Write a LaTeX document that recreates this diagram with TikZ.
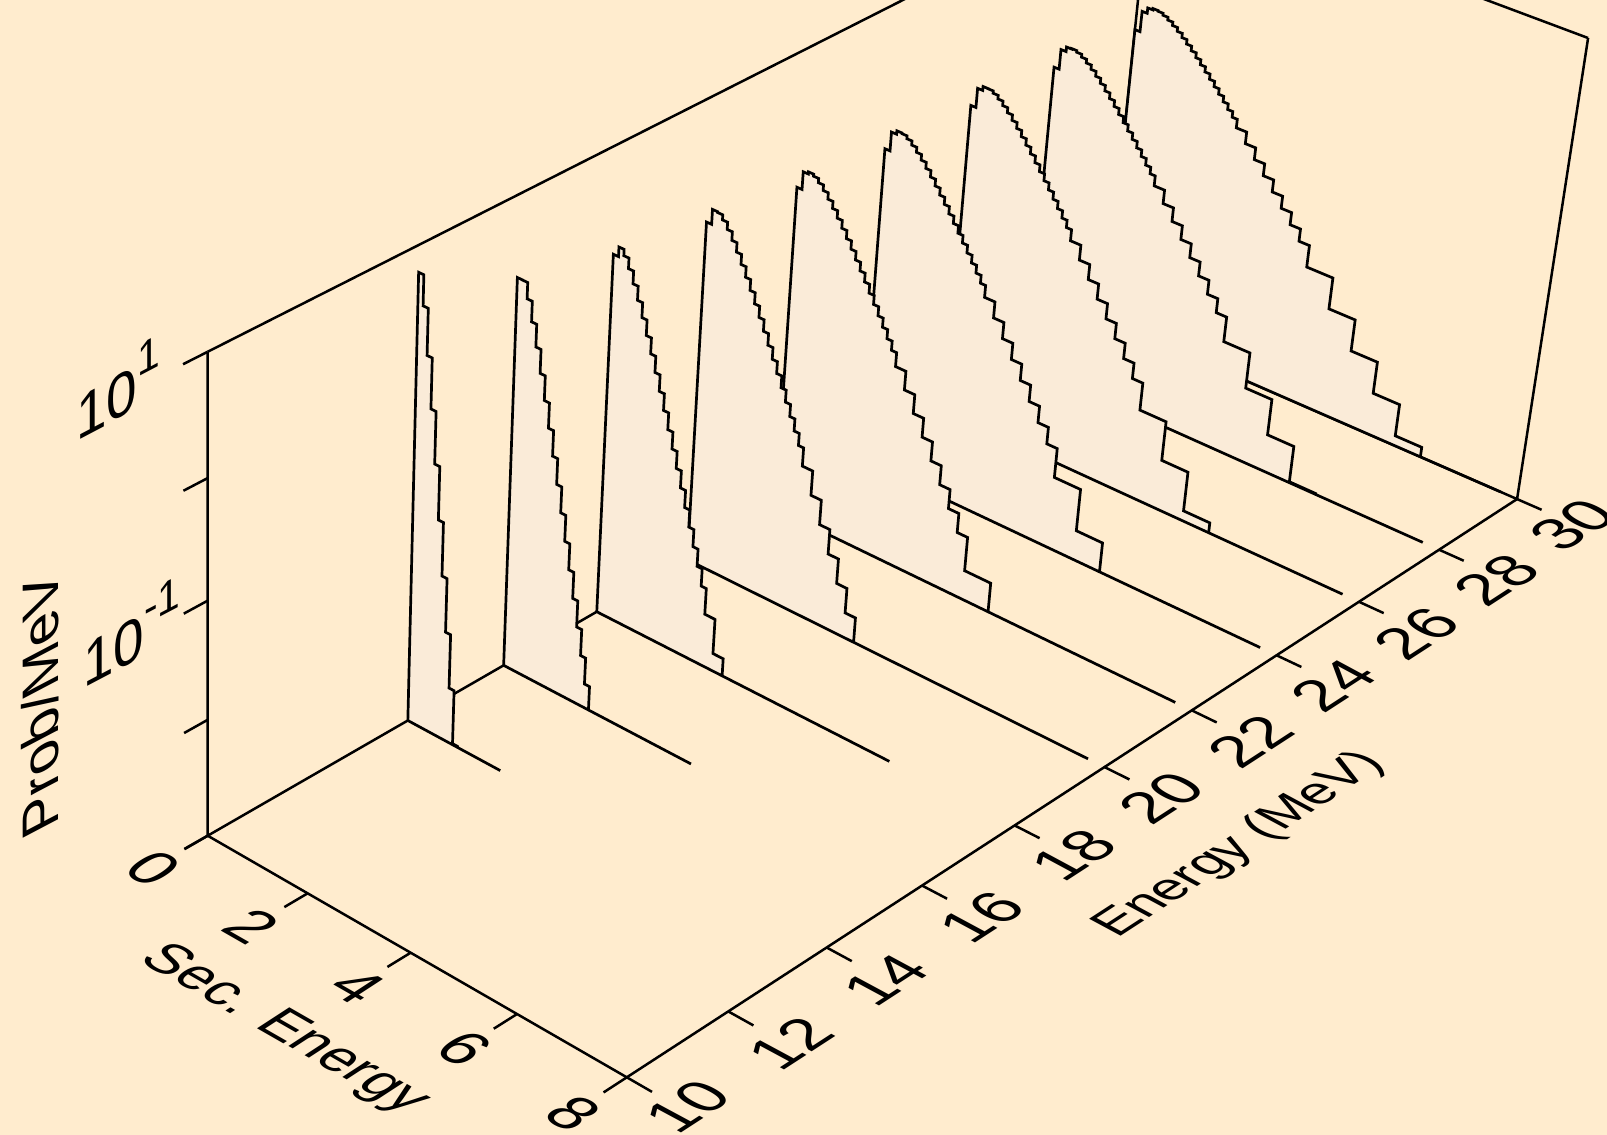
\documentclass[tikz,border=0pt]{standalone}
\usepackage{fontspec}
\setmainfont{Liberation Sans}
\definecolor{bgc}{RGB}{255,236,206}
\definecolor{fillc}{RGB}{250,235,216}
% perspective projection (u = sec. energy, v = energy-10, w = decades above 1e-3) -> pixels
\newcommand\PJ[3]{%
  \pgfmathsetmacro\pjd{1-0.007578*(#1)+0.007418*(#2)-0.013989*(#3)}%
  \pgfmathsetmacro\px{(207.7+47.64*(#1)+53.06*(#2)-2.906*(#3))/\pjd}%
  \pgfmathsetmacro\py{(835.7+22.04*(#1)-23.46*(#2)-125.9*(#3))/\pjd}}
\def\binlist{0/0.1,0.1/0.2,0.2/0.3,0.3/0.4,0.4/0.5,0.5/0.6,0.6/0.7,0.7/0.8,0.8/0.9,0.9/1.0,1.0/1.1,1.1/1.2,1.2/1.3,1.3/1.4,1.4/1.5,1.5/1.6,1.6/1.7,1.7/1.8,1.8/1.9,1.9/2.0,2.0/2.1,2.1/2.3,2.3/2.5,2.5/2.7,2.7/2.9,2.9/3.1,3.1/3.3,3.3/3.5,3.5/3.7,3.7/4.2,4.2/4.7,4.7/5.2,5.2/5.7,5.7/6.2,6.2/6.7,6.7/7.2,7.2/7.7}
% #1 = v, #2 = c, #3 = k, #4 = s_max
\newcommand\spectrum[4]{%
  \PJ{0}{#1}{0}%
  \xdef\spath{(\px,\py)}%
  \foreach \bla/\blb in \binlist {%
    \pgfmathtruncatemacro\binok{(\blb<(#4)+0.01)?1:0}%
    \ifnum\binok=1\relax
      \pgfmathsetmacro\binm{(\bla+\blb)/2}%
      \pgfmathsetmacro\binw{max(0,(#2)+0.5*log10(\binm)-(#3)*\binm)}%
      \PJ{\bla}{#1}{\binw}\xdef\spath{\spath -- (\px,\py)}%
      \PJ{\blb}{#1}{\binw}\xdef\spath{\spath -- (\px,\py)}%
    \fi}%
  \PJ{#4}{#1}{0}%
  \xdef\spath{\spath -- (\px,\py) -- cycle}%
  \path[specfill] \spath;}
\newcommand\plabel[5]{%
  \begin{scope}[shift={(#2,#3)}]
    \node[cm={#4,(0,0)},transform shape,inner sep=0pt,anchor=center] (#1) at (0,0) {#5};
  \end{scope}}
\newcommand\tfont{\fontsize{31}{34}\selectfont}
\newcommand\supr[1]{\raisebox{0.5em}{\fontsize{23}{25}\selectfont #1}}
\begin{document}
\begin{tikzpicture}[x=0.5pt,y=-0.5pt,line join=miter,
  specfill/.style={fill=fillc,draw=black,line width=1.35pt},
  boxline/.style={draw=black,line width=1.25pt}]
\useasboundingbox (0,0) rectangle (1607,1135);
\fill[bgc] (0,0) rectangle (1607,1135);
\begin{scope}
\clip (0,0) rectangle (1607,1135);
% box corners
\PJ{0}{0}{0}\coordinate (O) at (\px,\py);
\PJ{0}{0}{4}\coordinate (Otop) at (\px,\py);
\PJ{0}{20}{0}\coordinate (B) at (\px,\py);
\PJ{0}{20}{4}\coordinate (Btop) at (\px,\py);
\PJ{8}{20}{0}\coordinate (C) at (\px,\py);
\PJ{8}{20}{4}\coordinate (Ctop) at (\px,\py);
\PJ{8}{0}{0}\coordinate (F) at (\px,\py);
% back box lines
\draw[boxline] (O) -- (B);
\draw[boxline] (B) -- (C);
\draw[boxline] (B) -- (Btop);
\draw[boxline] (Otop) -- (Btop);
\draw[boxline] (Btop) -- (Ctop);
\draw[boxline] (Ctop) -- (C);
% spectra, back to front
\spectrum{20}{3.33}{0.61}{7.7}
\spectrum{18}{3.384}{0.687}{7.7}
\spectrum{16}{3.44}{0.747}{7.7}
\spectrum{14}{3.461}{0.792}{7.7}
\spectrum{12}{3.537}{0.906}{7.7}
\spectrum{10}{3.661}{1.155}{7.7}
\spectrum{8}{3.826}{1.61}{5.7}
\spectrum{6}{4.091}{2.42}{3.7}
\spectrum{4}{4.675}{4.9}{1.85}
% front axes
\draw[boxline] (Otop) -- (O);
\draw[boxline] (O) -- (F);
\draw[boxline] (F) -- (C);
\foreach \w in {0,...,4}{%
  \PJ{0}{0}{\w}\coordinate (vt\w) at (\px,\py);
  \PJ{0}{-0.45}{\w}\coordinate (vte\w) at (\px,\py);
  \draw[boxline] (vt\w) -- (vte\w);}
\foreach \s in {0,2,...,8}{%
  \PJ{\s}{0}{0}\coordinate (st\s) at (\px,\py);
  \PJ{\s}{-0.45}{0}\coordinate (ste\s) at (\px,\py);
  \draw[boxline] (st\s) -- (ste\s);}
\foreach \e in {0,2,...,20}{%
  \PJ{8}{\e}{0}\coordinate (et\e) at (\px,\py);
  \PJ{8.45}{\e}{0}\coordinate (ete\e) at (\px,\py);
  \draw[boxline] (et\e) -- (ete\e);}
% labels
\plabel{lv1}{118}{388}{0.885,0.465,0,1}{\tfont 10\supr{1}}
\plabel{lv2}{132}{632}{0.885,0.465,0,1}{\tfont 10\supr{-1}}
\plabel{lprob}{40}{705}{0,1,-0.885,-0.465}{\fontsize{29}{32}\selectfont Prob/MeV}
\foreach \t/\xx/\yy in {0/153.6/868.3,2/251.8/926.7,4/357/986.7,6/464.3/1048.3,8/573.2/1113.3}{%
  \plabel{ls\t}{\xx}{\yy}{0.868,-0.497,0.838,0.546}{\tfont \t}}
\plabel{lsec}{284}{1030}{0.868,-0.497,0.838,0.546}{\fontsize{28}{31}\selectfont Sec. Energy}
\foreach \t/\xx/\yy in {10/688/1106.7,12/790/1043,14/886/980,16/982/917,18/1074/855,20/1161.6/798,22/1250/741.7,24/1333/685,26/1416.7/633.3,28/1496.7/580,30/1573/525}{%
  \plabel{le\t}{\xx}{\yy}{0.839,0.545,-0.881,0.474}{\tfont \t}}
\plabel{lene}{1240}{845}{0.839,0.545,-0.881,0.474}{\fontsize{26}{29}\selectfont Energy (MeV)}
\end{scope}
\end{tikzpicture}
\end{document}
